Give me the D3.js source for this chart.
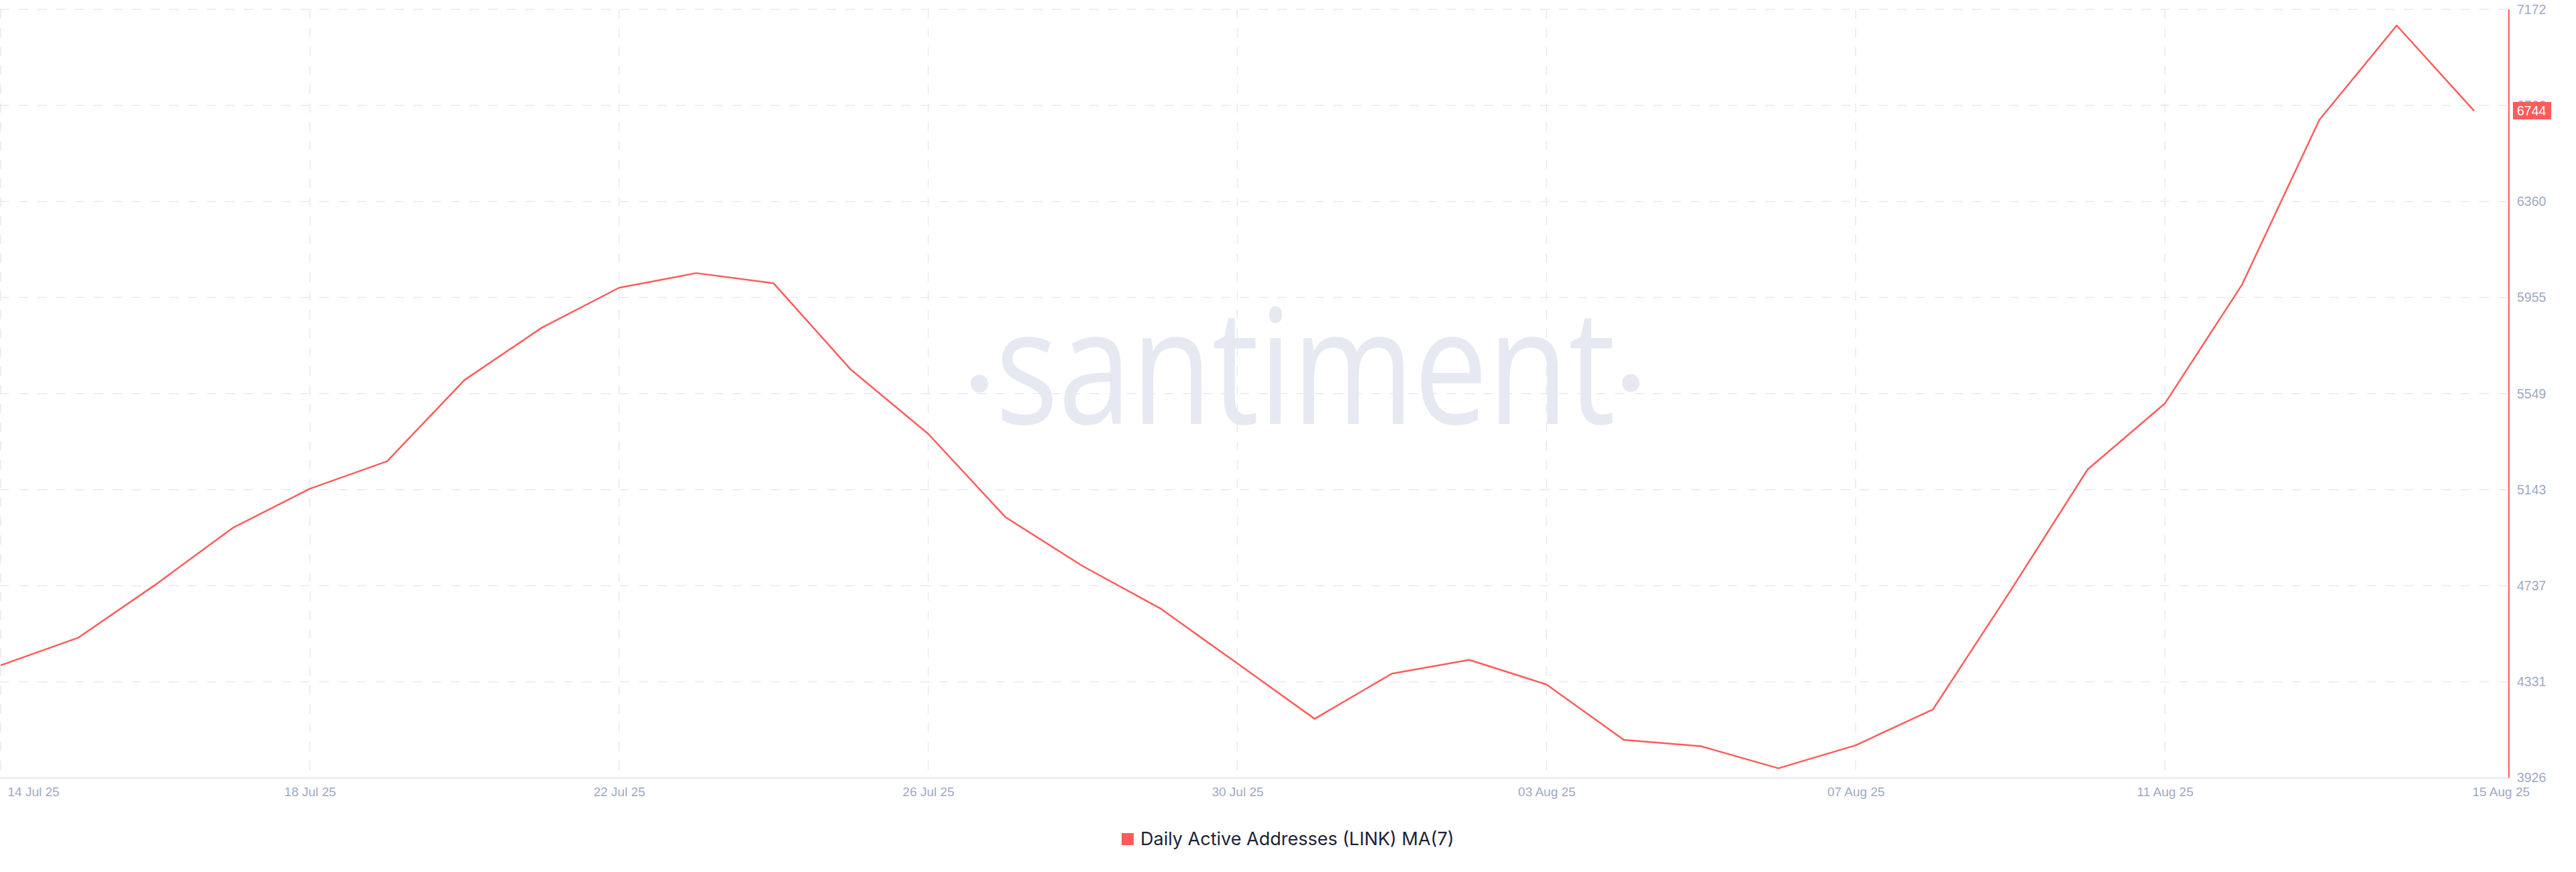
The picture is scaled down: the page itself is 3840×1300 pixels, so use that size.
<!DOCTYPE html>
<html>
<head>
<meta charset="utf-8">
<script src="https://cdn.jsdelivr.net/npm/d3@7"></script>
<style>
  html, body { margin: 0; padding: 0; background: #ffffff; }
  svg { display: block; }
</style>
</head>
<body>
<svg id="chart" width="3840" height="1300"></svg>
<script>
// ---- data ----
const dates = [
  "2025-07-14","2025-07-15","2025-07-16","2025-07-17","2025-07-18","2025-07-19","2025-07-20",
  "2025-07-21","2025-07-22","2025-07-23","2025-07-24","2025-07-25","2025-07-26","2025-07-27",
  "2025-07-28","2025-07-29","2025-07-30","2025-07-31","2025-08-01","2025-08-02","2025-08-03",
  "2025-08-04","2025-08-05","2025-08-06","2025-08-07","2025-08-08","2025-08-09","2025-08-10",
  "2025-08-11","2025-08-12","2025-08-13","2025-08-14","2025-08-15"
];
const activeAddressesMA7 = [
  4401, 4517, 4741, 4981, 5147, 5263, 5606,
  5827, 5996, 6058, 6015, 5650, 5379, 5027,
  4820, 4642, 4409, 4175, 4366, 4424, 4320,
  4086, 4059, 3966, 4063, 4215, 4715, 5228,
  5507, 6010, 6706, 7104, 6744
];
const xTickDates = ["2025-07-14","2025-07-18","2025-07-22","2025-07-26","2025-07-30","2025-08-03","2025-08-07","2025-08-11","2025-08-15"];
const xTickLabels = ["14 Jul 25","18 Jul 25","22 Jul 25","26 Jul 25","30 Jul 25","03 Aug 25","07 Aug 25","11 Aug 25","15 Aug 25"];
const xGridDates = ["2025-07-14","2025-07-18","2025-07-22","2025-07-26","2025-07-30","2025-08-03","2025-08-07","2025-08-11"];
const yTickValues = [3926, 4331, 4737, 5143, 5549, 5955, 6360, 6766, 7172];
const seriesName = "Daily Active Addresses (LINK) MA(7)";
const lastValueLabel = "6744";

// ---- styling / layout ----
const RED = "#ff5b5b";
const GRID = "#e6e9f2";
const TICK_TEXT = "#9ea8c4";
const plot = { left: 0, right: 3740, top: 14, bottom: 1159.5 };

const parse = d3.utcParse("%Y-%m-%d");
const data = dates.map((d, i) => ({ date: parse(d), value: activeAddressesMA7[i] }));

const x = d3.scaleUtc()
  .domain([parse(dates[0]), parse(dates[dates.length - 1])])
  .range([1, 3688]);
const y = d3.scaleLinear()
  .domain([yTickValues[0], yTickValues[yTickValues.length - 1]])
  .range([plot.bottom, plot.top]);

const svg = d3.select("#chart");
svg.append("rect").attr("width", 3840).attr("height", 1300).attr("fill", "#ffffff");

// ---- watermark ----
const wm = svg.append("g").attr("fill", "#e6e9f2");
wm.append("text")
  .attr("x", 1484)
  .attr("y", 632)
  .attr("font-family", "'Open Sans', 'Noto Sans', sans-serif")
  .attr("font-size", 238)
  .attr("textLength", 924)
  .attr("lengthAdjust", "spacingAndGlyphs")
  .text("santiment");
wm.append("ellipse").attr("cx", 1460).attr("cy", 572).attr("rx", 13).attr("ry", 13.5);
wm.append("ellipse").attr("cx", 2431).attr("cy", 571).attr("rx", 13).attr("ry", 13.5);

// ---- horizontal grid ----
const gridG = svg.append("g");
gridG.selectAll("line.hgrid")
  .data(yTickValues.slice(1))
  .join("line")
  .attr("class", "hgrid")
  .attr("x1", plot.left).attr("x2", plot.right)
  .attr("y1", d => y(d)).attr("y2", d => y(d))
  .attr("stroke", GRID).attr("stroke-width", 1.5)
  .attr("stroke-dasharray", "14,14");

// ---- vertical grid ----
gridG.selectAll("line.vgrid")
  .data(xGridDates)
  .join("line")
  .attr("class", "vgrid")
  .attr("x1", d => x(parse(d))).attr("x2", d => x(parse(d)))
  .attr("y1", plot.top).attr("y2", plot.bottom)
  .attr("stroke", GRID).attr("stroke-width", 1.5)
  .attr("stroke-dasharray", "14,14");

// ---- x axis ----
const xAxis = d3.axisBottom(x)
  .tickValues(xTickDates.map(parse))
  .tickSize(0)
  .tickPadding(0)
  .tickFormat((d, i) => xTickLabels[i]);
const xg = svg.append("g")
  .attr("transform", `translate(0,${plot.bottom})`)
  .call(xAxis);
xg.select(".domain").remove();
xg.selectAll("text")
  .attr("fill", TICK_TEXT)
  .attr("font-family", "'Liberation Sans', Arial, sans-serif")
  .attr("font-size", 19)
  .attr("dy", 0)
  .attr("y", 27)
  .attr("text-anchor", (d, i) => (i === 0 || i === xTickDates.length - 1) ? "start" : "middle")
  .attr("x", (d, i) => i === 0 ? 10 : (i === xTickDates.length - 1 ? -3 : 0));
svg.append("line")
  .attr("x1", 0).attr("x2", plot.right)
  .attr("y1", plot.bottom + 0.5).attr("y2", plot.bottom + 0.5)
  .attr("stroke", "#e3e7f0").attr("stroke-width", 2);

// ---- y axis (right) ----
const yAxis = d3.axisRight(y)
  .tickValues(yTickValues)
  .tickSize(0)
  .tickPadding(12)
  .tickFormat(d3.format("d"));
const yg = svg.append("g")
  .attr("transform", `translate(${plot.right},0)`)
  .call(yAxis);
yg.select(".domain").remove();
yg.selectAll("text")
  .attr("fill", TICK_TEXT)
  .attr("font-family", "'Liberation Sans', Arial, sans-serif")
  .attr("font-size", 19.5);
svg.append("line")
  .attr("x1", plot.right).attr("x2", plot.right)
  .attr("y1", plot.top).attr("y2", plot.bottom)
  .attr("stroke", RED).attr("stroke-width", 2);

// ---- line ----
const line = d3.line()
  .x(d => x(d.date))
  .y(d => y(d.value));
svg.append("path")
  .datum(data)
  .attr("d", line)
  .attr("fill", "none")
  .attr("stroke", RED)
  .attr("stroke-width", 2.5)
  .attr("stroke-linejoin", "round");

// ---- last value badge ----
const lastY = y(+lastValueLabel);
const badge = svg.append("g");
badge.append("rect")
  .attr("x", plot.right + 6).attr("y", lastY - 13)
  .attr("width", 57).attr("height", 26)
  .attr("fill", RED);
badge.append("text")
  .attr("x", plot.right + 12).attr("y", lastY)
  .attr("dy", "0.35em")
  .attr("fill", "#ffffff")
  .attr("font-family", "'Liberation Sans', Arial, sans-serif")
  .attr("font-size", 19.5)
  .text(lastValueLabel);

// ---- legend ----
const lg = svg.append("g");
lg.append("rect")
  .attr("x", 1672).attr("y", 1242).attr("width", 18).attr("height", 18)
  .attr("fill", RED);
lg.append("text")
  .attr("x", 1700).attr("y", 1260)
  .attr("fill", "#1c2236")
  .attr("font-family", "Inter, 'Open Sans', sans-serif")
  .attr("font-size", 27)
  .text(seriesName);
</script>
</body>
</html>
